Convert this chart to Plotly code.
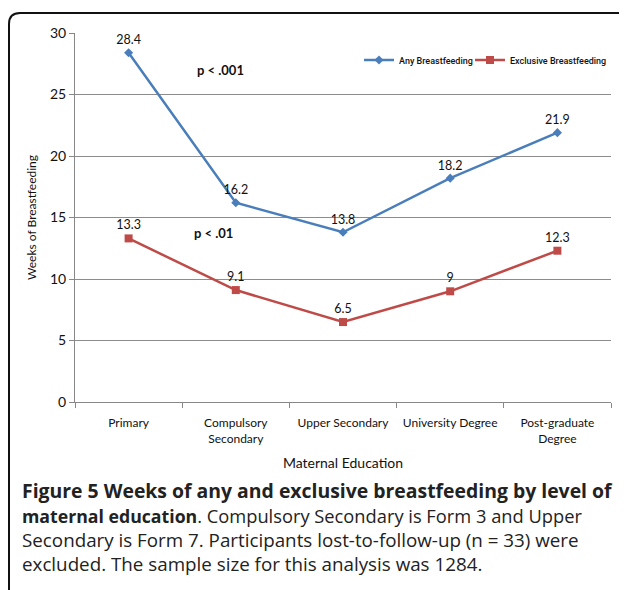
import plotly.graph_objects as go

categories = ["Primary", "Compulsory<br>Secondary", "Upper Secondary", "University Degree", "Post-graduate<br>Degree"]
any_bf = [28.4, 16.2, 13.8, 18.2, 21.9]
excl_bf = [13.3, 9.1, 6.5, 9.0, 12.3]
any_labels = ["28.4", "16.2", "13.8", "18.2", "21.9"]
excl_labels = ["13.3", "9.1", "6.5", "9", "12.3"]
y_ticks = [0, 5, 10, 15, 20, 25, 30]

# page has an 8px body margin; the figure is sized so that screen coordinates line up
O = 8
W, H = 627 - O, 590 - O
PL, PR, PT, PB = 75, 611, 33, 402  # plot area in screen px
L, R, T, B = PL - O, W - (PR - O), PT - O, H - (PB - O)
pw, ph = PR - PL, PB - PT

def px(sx):
    return (sx - PL) / pw

def py(sy):
    return (PB - sy) / ph

chart_font = "Lato, Open Sans, sans-serif"
legend_font = "Roboto, Liberation Sans, sans-serif"
blue = "#4a7ebb"
red = "#be4b48"

fig = go.Figure()
fig.add_trace(go.Scatter(
    x=categories, y=any_bf, mode="lines+markers+text", name="Any Breastfeeding",
    line=dict(color=blue, width=2.5), marker=dict(symbol="diamond", size=7, color=blue),
    text=any_labels, textposition="top center", legend="legend",
    textfont=dict(family=chart_font, size=12.5, color="#111"), cliponaxis=False))
fig.add_trace(go.Scatter(
    x=categories, y=excl_bf, mode="lines+markers+text", name="Exclusive Breastfeeding",
    line=dict(color=red, width=2.5), marker=dict(symbol="square", size=8, color=red),
    text=excl_labels, textposition="top center", legend="legend2",
    textfont=dict(family=chart_font, size=12.5, color="#111"), cliponaxis=False))

leg_common = dict(orientation="h", yanchor="middle", xanchor="right", itemwidth=30,
                  bgcolor="rgba(0,0,0,0)",
                  font=dict(family=legend_font, size=9, color="#111", weight=500))

fig.update_layout(
    width=W, height=H, margin=dict(l=L, r=R, t=T, b=B, autoexpand=False),
    paper_bgcolor="white", plot_bgcolor="white",
    showlegend=True,
    legend=dict(x=px(478), y=py(60), **leg_common),
    legend2=dict(x=px(612), y=py(60), **leg_common),
    xaxis=dict(type="category", tickson="boundaries", ticks="outside", ticklen=5,
               tickcolor="#888", showline=True, linecolor="#888", linewidth=1,
               showgrid=False, range=[-0.5, 4.5], tickangle=0, automargin=False,
               ticklabelstandoff=10,
               tickfont=dict(family=chart_font, size=12, color="#111"),
               title=dict(text="Maternal Education", font=dict(family=chart_font, size=14, color="#111"), standoff=13)),
    yaxis=dict(range=[0, 30], tickvals=y_ticks, ticks="outside", ticklen=5, tickcolor="#888",
               showline=True, linecolor="#888", linewidth=1, automargin=False,
               showgrid=True, gridcolor="#8c8c8c", gridwidth=1, zeroline=False,
               tickfont=dict(family=chart_font, size=14, color="#111"),
               title=dict(text="Weeks of Breastfeeding", font=dict(family=chart_font, size=12, color="#111"), standoff=10)),
)

fig.add_annotation(x=px(195), y=py(60), xref="paper", yref="paper", text="<b>p < .001</b>",
                   showarrow=False, font=dict(family=chart_font, size=13, color="#111"))
fig.add_annotation(x=px(192), y=py(233), xref="paper", yref="paper", text="<b>p < .01</b>",
                   showarrow=False, font=dict(family=chart_font, size=13, color="#111"))

cap_font = "Open Sans, Noto Sans, sans-serif"
caption_lines = [
    ("<b>Figure 5 Weeks of any and exclusive breastfeeding by level of</b>", 490, 19.4),
    ("<span style='font-size:17.7px'><b>maternal education</b></span>. Compulsory Secondary is Form 3 and Upper", 515, 18.3),
    ("Secondary is Form 7. Participants lost-to-follow-up (n = 33) were", 540, 18.8),
    ("excluded. The sample size for this analysis was 1284.", 564, 18.8),
]
for txt, yy, fs in caption_lines:
    fig.add_annotation(x=px(20), y=py(yy), xref="paper", yref="paper", xanchor="left", yanchor="middle",
                       text=txt, showarrow=False, font=dict(family=cap_font, size=fs, color="#222"))

# rounded frame
x0, x1, y0, y1, r = 9, 628, 13, 610, 11
path = (f"M {px(x1)},{py(y0 + r)} Q {px(x1)},{py(y0)} {px(x1 - r)},{py(y0)} "
        f"L {px(x0 + r)},{py(y0)} Q {px(x0)},{py(y0)} {px(x0)},{py(y0 + r)} "
        f"L {px(x0)},{py(y1)}")
fig.add_shape(type="path", path=path, xref="paper", yref="paper", line=dict(color="#111", width=2))

fig.write_html("out.html")
